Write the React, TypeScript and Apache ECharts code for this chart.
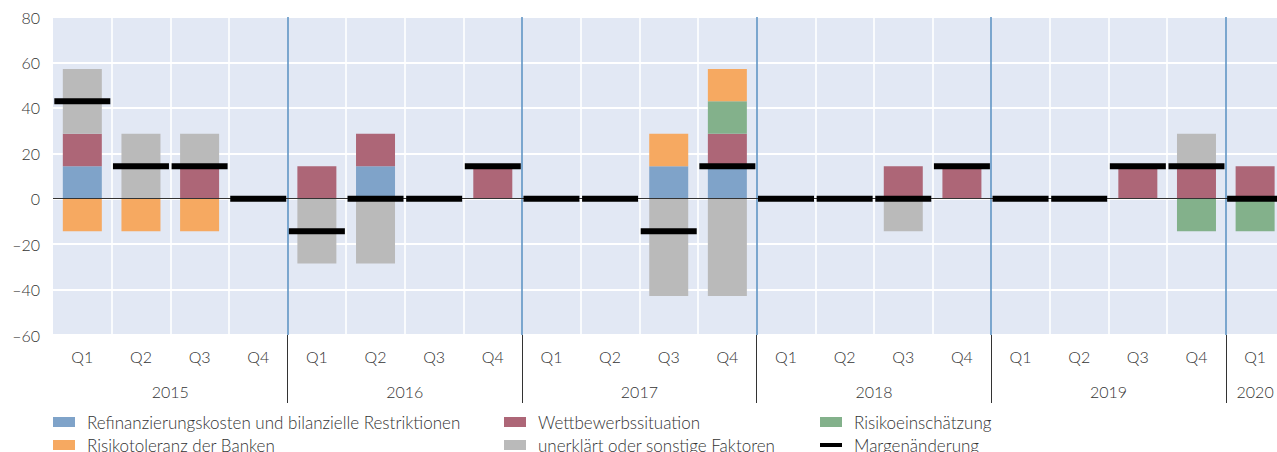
import React, { useEffect, useRef } from "react";
import * as echarts from "echarts";

const years = ["2015", "2016", "2017", "2018", "2019", "2020"];
const quartersPerYear = [4, 4, 4, 4, 4, 1];
const quarterNames = ["Q1", "Q2", "Q3", "Q4"];

const refinanzierung = [14.29, 0, 0, 0, 0, 14.29, 0, 0, 0, 0, 14.29, 14.29, 0, 0, 0, 0, 0, 0, 0, 0, 0];
const wettbewerb = [14.29, 0, 14.29, 0, 14.29, 14.29, 0, 14.29, 0, 0, 0, 14.29, 0, 0, 14.29, 14.29, 0, 0, 14.29, 14.29, 14.29];
const risikoeinschaetzung = [0, 0, 0, 0, 0, 0, 0, 0, 0, 0, 0, 14.29, 0, 0, 0, 0, 0, 0, 0, -14.29, -14.29];
const risikotoleranz = [-14.29, -14.29, -14.29, 0, 0, 0, 0, 0, 0, 0, 14.29, 14.29, 0, 0, 0, 0, 0, 0, 0, 0, 0];
const unerklaert = [28.57, 28.57, 14.29, 0, -28.57, -28.57, 0, 0, 0, 0, -42.86, -42.86, 0, 0, -14.29, 0, 0, 0, 0, 14.29, 0];
const margenaenderung = [42.86, 14.29, 14.29, 0, -14.29, 0, 0, 14.29, 0, 0, -14.29, 14.29, 0, 0, 0, 14.29, 0, 0, 14.29, 14.29, 0];

const yTicks = { min: -60, max: 80, interval: 20 };

const NAMES = {
  refin: "Refinanzierungskosten und bilanzielle Restriktionen",
  tol: "Risikotoleranz der Banken",
  wett: "Wettbewerbssituation",
  uner: "unerklärt oder sonstige Faktoren",
  ein: "Risikoeinschätzung",
  marg: "Margenänderung",
};

const COLORS = {
  refin: "#7fa3c9",
  wett: "#ad6677",
  ein: "#83b18b",
  tol: "#f6a961",
  uner: "#bababa",
  marg: "#000000",
};

const FONT = "Lato, 'Open Sans', sans-serif";

export default function App() {
  const ref = useRef<HTMLDivElement>(null);

  useEffect(() => {
    if (!ref.current) return;
    const chart = echarts.init(ref.current, undefined, { renderer: "svg" });

    const categories: string[] = [];
    const yearCenter: Record<string, string> = {};
    let pos = 0;
    years.forEach((y, i) => {
      const n = quartersPerYear[i];
      for (let q = 0; q < n; q++) categories.push(y + " " + quarterNames[q]);
      yearCenter[String((pos + n / 2) * 2)] = y;
      pos += n;
    });
    const total = categories.length;

    const textStyle = {
      fontFamily: FONT,
      fontSize: 17,
      color: "#333",
      fontWeight: 300 as any,
      lineHeight: 18,
      padding: [0, 0, 0, 7],
    };

    const bar = (key: keyof typeof COLORS, data: number[], extra: any = {}) => ({
      type: "bar",
      name: NAMES[key],
      stack: "total",
      barWidth: 39,
      data,
      itemStyle: { color: COLORS[key] },
      ...extra,
    });

    const legend = (name: string, left: number, top: number, h: number) => ({
      data: [name],
      left,
      top,
      padding: 0,
      orient: "vertical",
      itemWidth: 22,
      itemHeight: h,
      itemGap: 0,
      icon: "rect",
      textStyle,
      selectedMode: false,
    });

    chart.setOption({
      animation: false,
      grid: {
        left: 53,
        right: 1300 - 53 - 21 * 58.64,
        top: 17,
        bottom: 117,
        show: true,
        backgroundColor: "#e2e8f4",
        borderWidth: 0,
      },
      legend: [
        legend(NAMES.refin, 53, 413, 10),
        legend(NAMES.tol, 53, 436, 10),
        legend(NAMES.wett, 504, 413, 10),
        legend(NAMES.uner, 504, 436, 10),
        legend(NAMES.ein, 820, 413, 10),
        legend(NAMES.marg, 820, 436, 4),
      ],
      xAxis: [
        {
          type: "category",
          data: categories,
          position: "bottom",
          axisLine: { show: false, onZero: false },
          axisTick: {
            show: true,
            interval: (index: number) => index > 0 && index % 4 === 0,
            length: 68,
            lineStyle: { color: "#333", width: 1 },
          },
          axisLabel: {
            interval: 0,
            margin: 13,
            fontFamily: FONT,
            fontSize: 16,
            fontWeight: 300,
            color: "#333",
            formatter: (v: string) => v.split(" ")[1],
          },
          splitLine: {
            show: true,
            interval: 0,
            showMinLine: false,
            showMaxLine: false,
            lineStyle: { color: ["#ffffff", "#ffffff", "#ffffff", "#6195c5"], width: 1.6 },
          },
        },
        {
          type: "value",
          min: 0,
          max: total,
          interval: 0.5,
          position: "bottom",
          axisLine: { show: false, onZero: false },
          axisTick: { show: false },
          splitLine: { show: false },
          axisLabel: {
            margin: 48,
            fontFamily: FONT,
            fontSize: 16,
            fontWeight: 300,
            color: "#333",
            formatter: (v: number) => yearCenter[String(Math.round(v * 2))] || "",
          },
        },
      ],
      yAxis: {
        type: "value",
        min: yTicks.min,
        max: yTicks.max,
        interval: yTicks.interval,
        axisLine: { show: false },
        axisTick: { show: false },
        axisLabel: {
          margin: 13,
          fontFamily: FONT,
          fontSize: 16,
          fontWeight: 300,
          color: "#333",
          formatter: (v: number) => String(v).replace("-", "\u2013"),
        },
        splitLine: { show: true, lineStyle: { color: "#ffffff", width: 2 } },
      },
      series: [
        bar("refin", refinanzierung),
        bar("wett", wettbewerb),
        bar("ein", risikoeinschaetzung),
        bar("tol", risikotoleranz),
        bar("uner", unerklaert, {
          markLine: {
            silent: true,
            symbol: "none",
            label: { show: false },
            lineStyle: { color: "#333", width: 1, type: "solid" },
            data: [{ yAxis: 0 }],
          },
        }),
        {
          type: "scatter",
          name: NAMES.marg,
          data: margenaenderung,
          symbol: "rect",
          symbolSize: [56, 6],
          itemStyle: { color: COLORS.marg, opacity: 1 },
          z: 5,
        },
      ],
    });

    return () => chart.dispose();
  }, []);

  return (
    <div style={{ position: "absolute", left: 0, top: 0, width: 1277, height: 452, overflow: "hidden" }}>
      <div ref={ref} style={{ width: 1300, height: 452 }} />
    </div>
  );
}
